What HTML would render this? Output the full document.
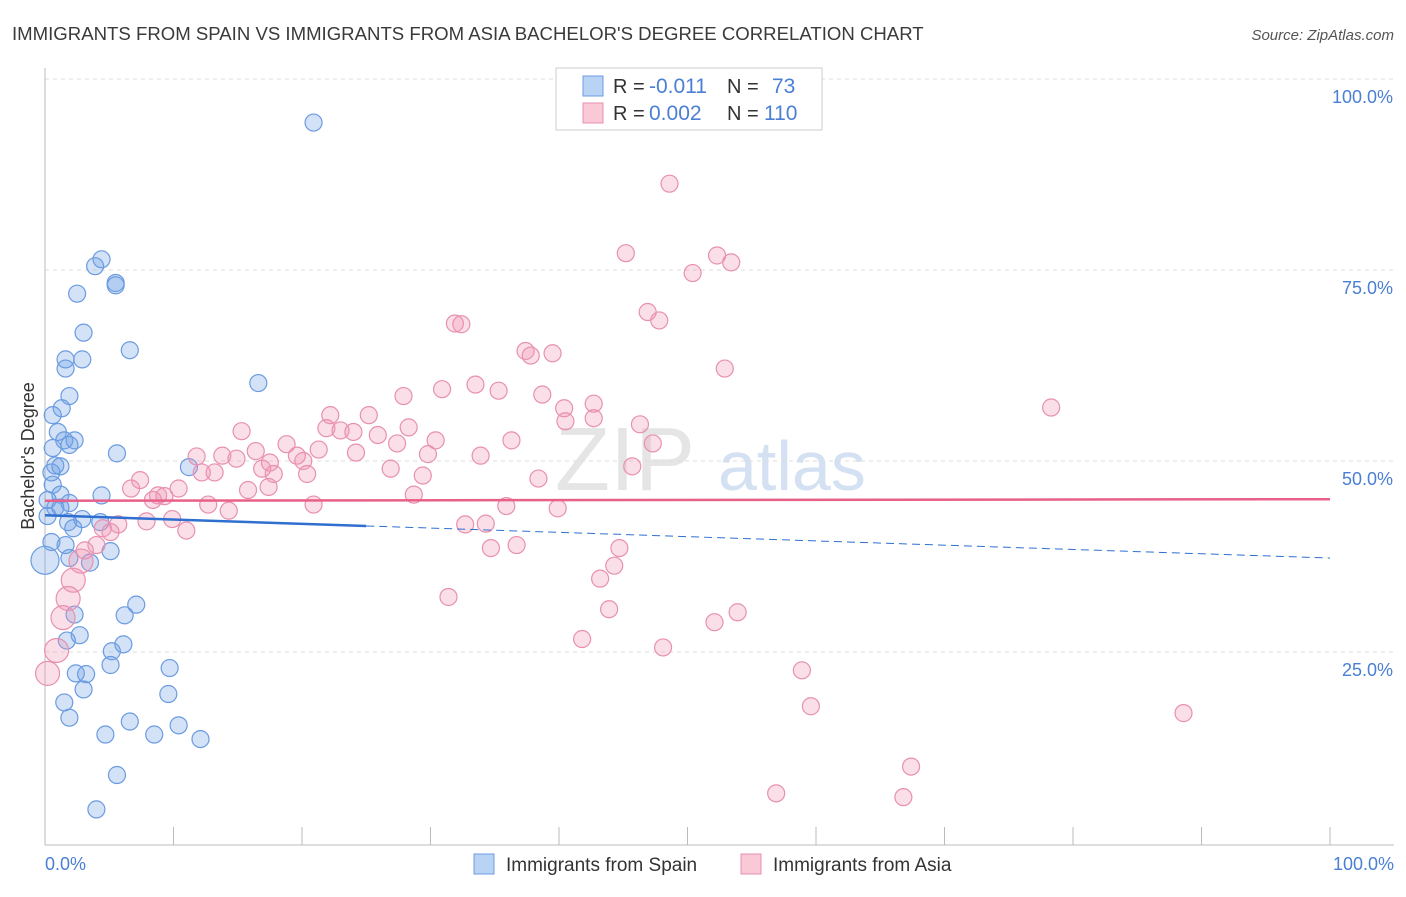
<!DOCTYPE html>
<html><head><meta charset="utf-8">
<style>
body{margin:0;background:#fff;font-family:"Liberation Sans",sans-serif;}
svg text{font-family:"Liberation Sans",sans-serif;}
</style></head>
<body>
<svg id="chart" width="1406" height="892" xmlns="http://www.w3.org/2000/svg">
<text x="12" y="40" font-size="18.6" fill="#3a3a3a">IMMIGRANTS FROM SPAIN VS IMMIGRANTS FROM ASIA BACHELOR'S DEGREE CORRELATION CHART</text>
<text x="1394" y="40" font-size="15" fill="#555" font-style="italic" text-anchor="end">Source: ZipAtlas.com</text>
<text x="555" y="490" font-size="90" fill="#ccc" opacity="0.5" font-family="Liberation Serif">ZIP</text>
<text x="718" y="490" font-size="70" fill="#a8c4e8" opacity="0.5">atlas</text>
<g id="grid"></g>
<g id="axes"></g>
<g id="marks"></g>
<g id="lines"></g>
<text transform="translate(34,456) rotate(-90)" font-size="18" fill="#333" text-anchor="middle">Bachelor's Degree</text>
<text x="45" y="870" font-size="18" fill="#4a7fd4">0.0%</text>
<text x="1394" y="870" font-size="18" fill="#4a7fd4" text-anchor="end">100.0%</text>
<g>
<rect x="556" y="68" width="266" height="62" fill="#fff" stroke="#ccc"/>
<rect x="583" y="76" width="20" height="20" fill="#b9d3f5" stroke="#6b9be0"/>
<rect x="583" y="103" width="20" height="20" fill="#f9c9d8" stroke="#e890b0"/>
<text x="613" y="93" font-size="20" fill="#333">R =</text>
<text x="649" y="93" font-size="21" fill="#4a7fd4">-0.011</text>
<text x="727" y="93" font-size="20" fill="#333">N =</text>
<text x="772" y="93" font-size="21" fill="#4a7fd4">73</text>
<text x="613" y="120" font-size="20" fill="#333">R =</text>
<text x="649" y="120" font-size="21" fill="#4a7fd4">0.002</text>
<text x="727" y="120" font-size="20" fill="#333">N =</text>
<text x="764" y="120" font-size="21" fill="#4a7fd4">110</text>
</g>
<g>
<rect x="474" y="854" width="20" height="20" fill="#b9d3f5" stroke="#6b9be0"/>
<text x="506" y="871" font-size="19" fill="#333">Immigrants from Spain</text></g>
<g>
<rect x="741" y="854" width="20" height="20" fill="#f9c9d8" stroke="#e890b0"/>
<text x="773" y="871" font-size="19" fill="#333">Immigrants from Asia</text></g>
</svg>
<script>
const yTicks=[100,75,50,25];
const yTickLabels=["100.0%","75.0%","50.0%","25.0%"];
const xTicks=[0,10,20,30,40,50,60,70,80,90,100];
const spainX=[20.9,4.4,3.9,5.5,5.5,2.5,3.0,6.6,1.6,2.9,1.6,16.6,1.9,1.3,0.6,1.0,1.5,2.3,1.9,0.6,5.6,0.8,1.2,11.2,0.5,0.6,1.2,4.4,0.2,1.9,0.8,1.2,0.2,2.9,1.8,4.3,2.2,0.5,1.6,5.1,0,1.9,3.5,7.1,2.3,6.2,2.7,1.7,6.1,5.2,5.1,9.7,2.4,3.2,3.0,9.6,1.5,1.9,6.6,10.4,4.7,8.5,12.1,5.6,4.0];
const spainY=[94.3,76.4,75.5,73.3,73.0,71.9,66.8,64.5,63.3,63.3,62.1,60.2,58.5,56.9,56.0,53.8,52.7,52.7,52.1,51.7,51.0,49.4,49.3,49.2,48.5,46.9,45.6,45.5,44.9,44.5,43.9,43.9,42.8,42.4,42.0,42.0,41.2,39.4,39.0,38.2,37.0,37.3,36.7,31.2,29.9,29.8,27.2,26.5,26.0,25.1,23.3,22.9,22.2,22.1,20.1,19.5,18.4,16.4,15.9,15.4,14.2,14.2,13.6,8.9,4.4];
const asiaX=[48.6,45.2,52.3,53.4,50.4,46.9,31.9,32.4,47.8,37.4,37.8,39.5,52.9,33.5,30.9,35.3,27.9,38.7,78.3,22.2,25.2,40.4,42.7,40.5,42.7,46.3,15.3,21.9,23.0,24.0,25.9,28.3,27.4,30.4,36.3,47.3,18.8,21.3,16.4,13.8,11.8,14.9,17.5,19.6,20.1,24.2,29.8,33.9,45.7,13.2,12.2,16.9,17.8,20.4,26.9,29.4,38.4,7.4,6.7,10.4,8.8,9.3,17.4,15.8,8.4,28.7,12.7,14.3,20.9,35.9,39.9,9.9,7.9,5.7,4.5,5.1,11.0,32.7,34.3,4.0,3.1,34.7,36.7,44.7,44.3,2.8,43.2,2.2,1.8,31.4,43.9,53.9,1.4,52.1,41.8,0.9,48.1,0.2,58.9,59.6,88.6,67.4,56.9,66.8];
const asiaY=[86.3,77.2,76.9,76.0,74.6,69.5,68.0,67.9,68.4,64.4,63.8,64.1,62.1,60.0,59.4,59.2,58.5,58.7,57.0,56.0,56.0,56.9,57.5,55.2,55.6,54.8,53.9,54.3,54.0,53.8,53.4,54.4,52.3,52.7,52.7,52.3,52.2,51.5,51.3,50.7,50.6,50.3,49.8,50.7,50.0,51.1,50.9,50.7,49.3,48.5,48.5,49.0,48.3,48.3,49.0,48.1,47.7,47.5,46.4,46.4,45.5,45.4,46.6,46.2,44.9,45.6,44.3,43.5,44.3,44.1,43.8,42.4,42.1,41.7,41.2,40.7,40.9,41.7,41.8,39.0,38.3,38.6,39.0,38.6,36.3,36.9,34.6,34.4,32.0,32.2,30.6,30.2,29.5,28.9,26.7,25.2,25.6,22.2,22.6,17.9,17.0,10.0,6.5,6.0];
const spainTrend=[42.9,37.3];
const asiaTrend=[44.8,45.0];
const spainSolidEnd=25;

const NS="http://www.w3.org/2000/svg";
const X=v=>45+12.85*v, Y=v=>843-7.64*v;
function mk(tag,attrs,parent){const e=document.createElementNS(NS,tag);for(const k in attrs)e.setAttribute(k,attrs[k]);parent.appendChild(e);return e;}
const grid=document.getElementById('grid'),axes=document.getElementById('axes'),marks=document.getElementById('marks'),lines=document.getElementById('lines');
yTicks.forEach((t,i)=>{
  const l=mk('line',{x1:45,x2:1394,y1:Y(t),y2:Y(t),stroke:'#ddd','stroke-dasharray':'4,4'},grid);
  
  
  const tx=mk('text',{x:1393,y:Y(t)+24,'font-size':18,fill:'#4a7fd4','text-anchor':'end'},grid);
  tx.textContent=yTickLabels[i];
  
  
});
const ax=mk('line',{x1:45,x2:1394,y1:845,y2:845,stroke:'#bbb'},axes);


const ay=mk('line',{x1:45,x2:45,y1:68,y2:845,stroke:'#bbb'},axes);


xTicks.forEach(t=>{
  const l=mk('line',{x1:X(t),x2:X(t),y1:827,y2:845,stroke:'#bbb'},axes);
  
  
});
spainX.forEach((v,i)=>{
  const r=(v===0)?14:8.5;
  const c=mk('circle',{cx:X(v),cy:Y(spainY[i]),r:r,fill:'rgba(110,160,230,0.3)',stroke:'#6b9be0','stroke-width':1.2},marks);
  
  
});
asiaX.forEach((v,i)=>{
  const r=(v<3&&asiaY[i]<40)?12:8.5;
  const c=mk('circle',{cx:X(v),cy:Y(asiaY[i]),r:r,fill:'rgba(240,150,180,0.3)',stroke:'#e890b0','stroke-width':1.2},marks);
  
  
});
const sy=x=>spainTrend[0]+(spainTrend[1]-spainTrend[0])*x/100;
const l1=mk('line',{x1:X(0),y1:Y(sy(0)),x2:X(spainSolidEnd),y2:Y(sy(spainSolidEnd)),stroke:'#2f6fd0','stroke-width':2.5},lines);


const l2=mk('line',{x1:X(spainSolidEnd),y1:Y(sy(spainSolidEnd)),x2:X(100),y2:Y(sy(100)),stroke:'#2f6fd0','stroke-width':1,'stroke-dasharray':'8,5'},lines);


const l3=mk('line',{x1:X(0),y1:Y(asiaTrend[0]),x2:X(100),y2:Y(asiaTrend[1]),stroke:'#e8608a','stroke-width':2.5},lines);


</script>
</body></html>
